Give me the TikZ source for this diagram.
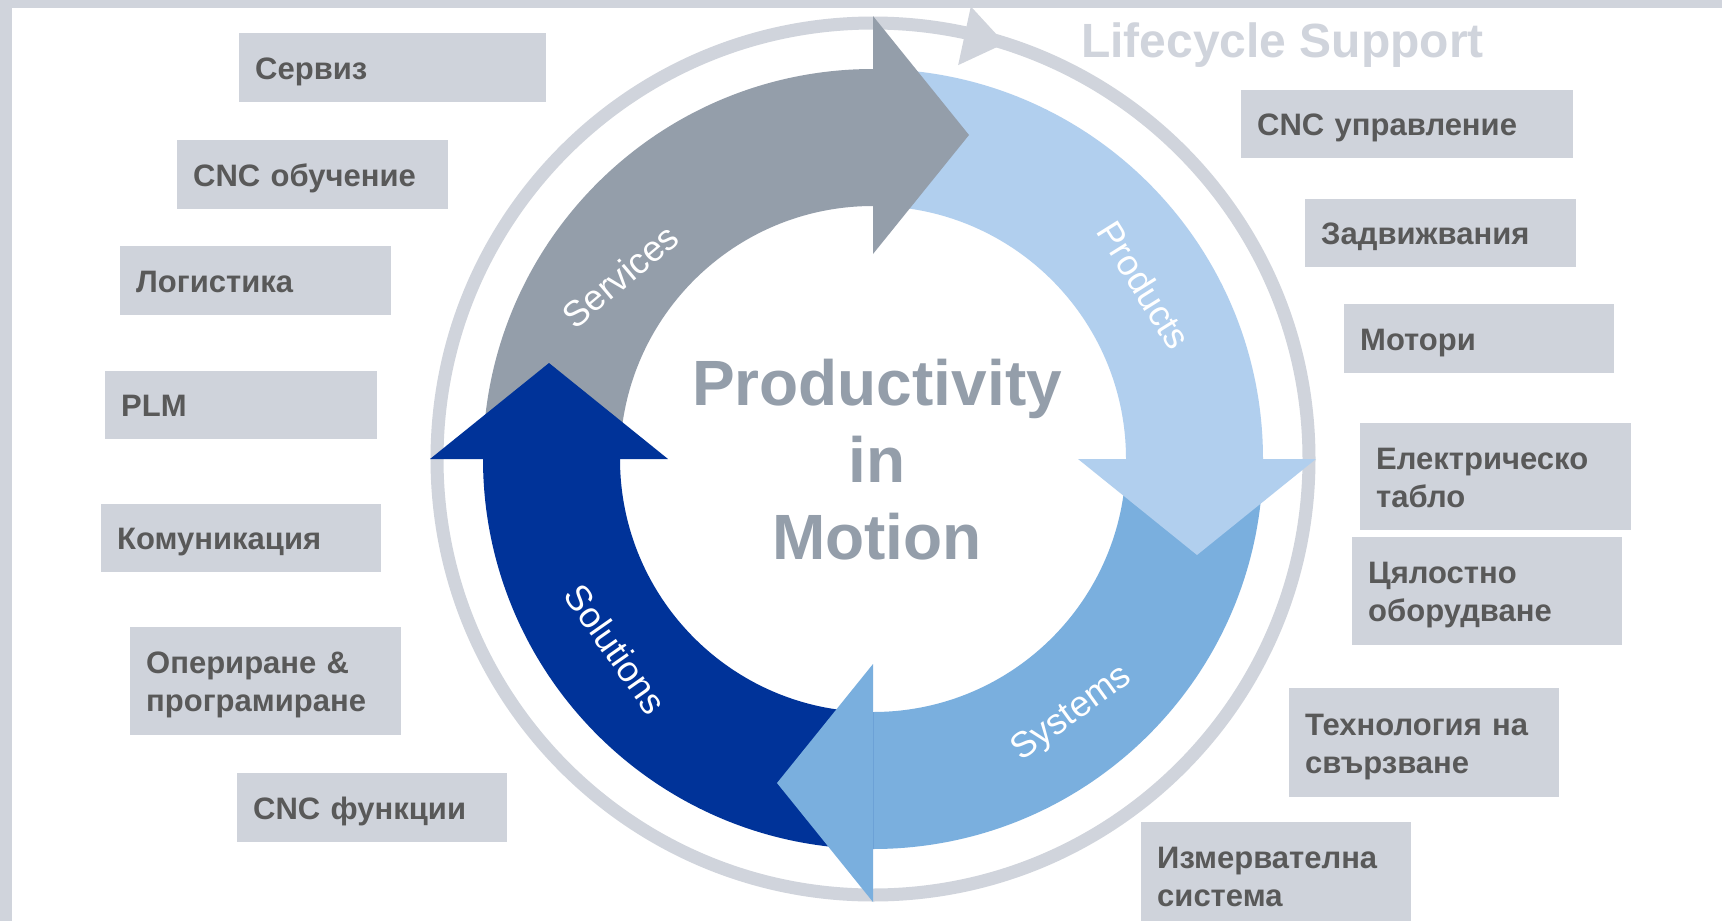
\documentclass[tikz,border=0pt]{standalone}
\usepackage{fontspec}
\setmainfont{Liberation Sans}
\usepackage{tikz}
\usetikzlibrary{calc}
\tikzset{
    boxnode/.style = {fill=boxgr, rectangle, anchor=north west, inner xsep=16pt, inner ysep=0pt, 
      text width=#1, align=left, text=txtgr, text height=22.6pt, text depth=0pt, 
      font=\fontsize{31}{38}\selectfont\bfseries},
    twolines/.style = {text depth=38pt},
    labelnode/.style = {draw=none, fill=none, inner sep=0pt, text=white, font=\fontsize{36}{42}\selectfont},
    titlenode/.style = {draw=none, fill=none, inner sep=0pt, align=center, text=srvc, 
      font=\fontsize{64}{77}\selectfont\bfseries},
    ringline/.style = {draw=framegr, line width=13pt}
}
\definecolor{framegr}{RGB}{208, 212, 220}
\definecolor{boxgr}{RGB}{207, 211, 219}
\definecolor{txtgr}{RGB}{89, 89, 89}
\definecolor{srvc}{RGB}{148, 158, 170}
\definecolor{prod}{RGB}{177, 207, 238}
\definecolor{syst}{RGB}{122, 175, 222}
\definecolor{solu}{RGB}{0, 51, 153}

\begin{document}
\begin{tikzpicture}[x=1pt, y=1pt]
\useasboundingbox (0,0) rectangle (1722,-921);
\fill[white] (0,0) rectangle (1722,-921);

% ring with the four arrows
\begin{scope}[shift={(873,-459)}]
\coordinate (c) at (0,0);
\draw[ringline] (c) circle[radius=436pt];
\fill[framegr] (77.8:463) -- (72.4:436) -- (77.8:403) -- cycle;
\foreach \st/\en/\cl in {180/90/srvc, 90/0/prod, 0/-90/syst, -90/-180/solu}
  \fill[\cl] (\st:390) arc[start angle=\st, end angle=\en, radius=390pt] 
    -- (\en:253) arc[start angle=\en, end angle=\st, radius=253pt] -- cycle;
\foreach \st/\en/\cl in {180/90/srvc, 90/0/prod, 0/-90/syst, -90/-180/solu}
  \fill[\cl] (\en:443) -- ($(\en:324)+(\en-90:96)$) -- (\en:205) -- cycle;
\end{scope}

\node [labelnode, name=services, rotate=40] at (620,-276) {Services};
\node [labelnode, name=products, rotate=-58] at (1144,-285) {Products};
\node [labelnode, name=systems, rotate=36] at (1072,-714) {Systems};
\node [labelnode, name=solutions, rotate=-55] at (616,-649) {Solutions};

\node [titlenode, name=motion] at (877,-460) {Productivity\\in\\Motion};

% left column
\node [boxnode=275pt, name=servis, minimum height=69pt] at (239,-33) {Сервиз};
\node [boxnode=239pt, name=obuchenie, minimum height=69pt] at (177,-140) {CNC обучение};
\node [boxnode=239pt, name=logistika, minimum height=69pt] at (120,-246) {Логистика};
\node [boxnode=240pt, name=plm, minimum height=68pt] at (105,-371) {PLM};
\node [boxnode=248pt, name=komunikacia, minimum height=68pt] at (101,-504) {Комуникация};
\node [boxnode=239pt, twolines, name=operirane, minimum height=108pt] at (130,-627) {Опериране \&\\програмиране};
\node [boxnode=238pt, name=funkcii, minimum height=69pt] at (237,-773) {CNC функции};

% right column
\node [boxnode=300pt, name=upravlenie, minimum height=68pt] at (1241,-90) {CNC управление};
\node [boxnode=239pt, name=zadvizhvania, minimum height=68pt] at (1305,-199) {Задвижвания};
\node [boxnode=238pt, name=motori, minimum height=69pt] at (1344,-304) {Мотори};
\node [boxnode=239pt, twolines, name=tablo, minimum height=107pt] at (1360,-423) {Електрическо\\табло};
\node [boxnode=238pt, twolines, name=oborudvane, minimum height=108pt] at (1352,-537) {Цялостно\\оборудване};
\node [boxnode=238pt, twolines, name=svarzvane, minimum height=109pt] at (1289,-688) {Технология на\\свързване};
\node [boxnode=238pt, twolines, name=izmervatelna, minimum height=108pt] at (1141,-822) {Измервателна\\система};

\node [anchor=base west, inner sep=0pt, text=framegr, font=\fontsize{48}{58}\selectfont\bfseries, 
  name=lifecycle] at (1081,-57) {Lifecycle Support};

% frame
\fill[framegr] (0,0) rectangle (1722,-8);
\fill[framegr] (0,0) rectangle (12,-921);
\end{tikzpicture}
\end{document}
